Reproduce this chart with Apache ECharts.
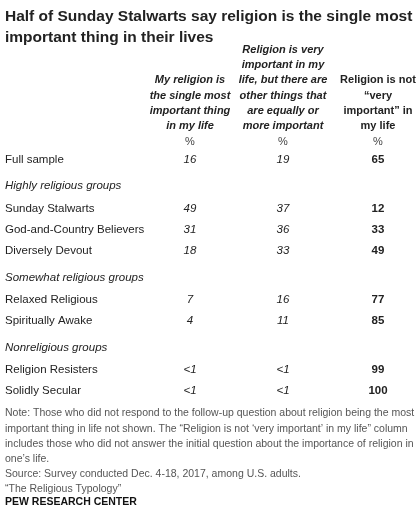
<!DOCTYPE html>
<html><head><meta charset="utf-8">
<script src="https://cdn.jsdelivr.net/npm/echarts@6/dist/echarts.min.js"></script>
<style>html,body{margin:0;padding:0;background:#fff}#c{width:420px;height:511px}</style>
</head><body><div id="c"></div>
<script>
const title = "Half of Sunday Stalwarts say religion is the single most\nimportant thing in their lives";
const columnHeaders = [
  "My religion is\nthe single most\nimportant thing\nin my life",
  "Religion is very\nimportant in my\nlife, but there are\nother things that\nare equally or\nmore important",
  "Religion is not\n\u201cvery\nimportant\u201d in\nmy life"
];
const rowLabels = ["Full sample","Highly religious groups","Sunday Stalwarts","God-and-Country Believers","Diversely Devout","Somewhat religious groups","Relaxed Religious","Spiritually Awake","Nonreligious groups","Religion Resisters","Solidly Secular"];
const isGroup = [false,true,false,false,false,true,false,false,true,false,false];
const col1 = ["16",null,"49","31","18",null,"7","4",null,"<1","<1"];
const col2 = ["19",null,"37","36","33",null,"16","11",null,"<1","<1"];
const col3 = ["65",null,"12","33","49",null,"77","85",null,"99","100"];
const note = "Note: Those who did not respond to the follow-up question about religion being the most\nimportant thing in life not shown. The \u201cReligion is not \u2018very important\u2019 in my life\u201d column\nincludes those who did not answer the initial question about the importance of religion in\none\u2019s life.\nSource: Survey conducted Dec. 4-18, 2017, among U.S. adults.\n\u201cThe Religious Typology\u201d";
const source = "PEW RESEARCH CENTER";

const F = "'Liberation Sans', Arial, sans-serif";
const rowY = [160,186,209,230,251,278,300,321,348,370,391];
const colX = [190,283,378];
const el = [];
el.push({type:'text',left:5,top:6,style:{text:title,font:"bold 15.5px "+F,fill:'#222',lineHeight:21}});
const hdrBottom = 134;
columnHeaders.forEach((h,i)=>{
  const n = h.split("\n").length;
  el.push({type:'text',x:colX[i],y:hdrBottom-n*15.3,style:{text:h,font:(i===2?"bold ":"italic bold ")+"11px "+F,fill:'#222',align:'center',verticalAlign:'top',lineHeight:15.3}});
  el.push({type:'text',x:colX[i],y:142,style:{text:"%",font:"11px "+F,fill:'#444',align:'center',verticalAlign:'middle'}});
});
rowLabels.forEach((r,j)=>{
  el.push({type:'text',x:5,y:rowY[j],style:{text:r,font:(isGroup[j]?"italic ":"")+"11.5px "+F,fill:'#222',verticalAlign:'middle'}});
  [col1,col2,col3].forEach((c,i)=>{
    if(c[j]!=null) el.push({type:'text',x:colX[i],y:rowY[j],style:{text:c[j],font:(i===2?"bold ":"italic ")+"11.5px "+F,fill:'#222',align:'center',verticalAlign:'middle'}});
  });
});
el.push({type:'text',left:5,top:406,style:{text:note,font:"10.5px "+F,fill:'#555',lineHeight:15.2}});
el.push({type:'text',left:5,top:497,style:{text:source,font:"bold 10.5px "+F,fill:'#111'}});
const chart = echarts.init(document.getElementById('c'),null,{renderer:'canvas'});
chart.setOption({animation:false,graphic:{elements:el}});
</script></body></html>
